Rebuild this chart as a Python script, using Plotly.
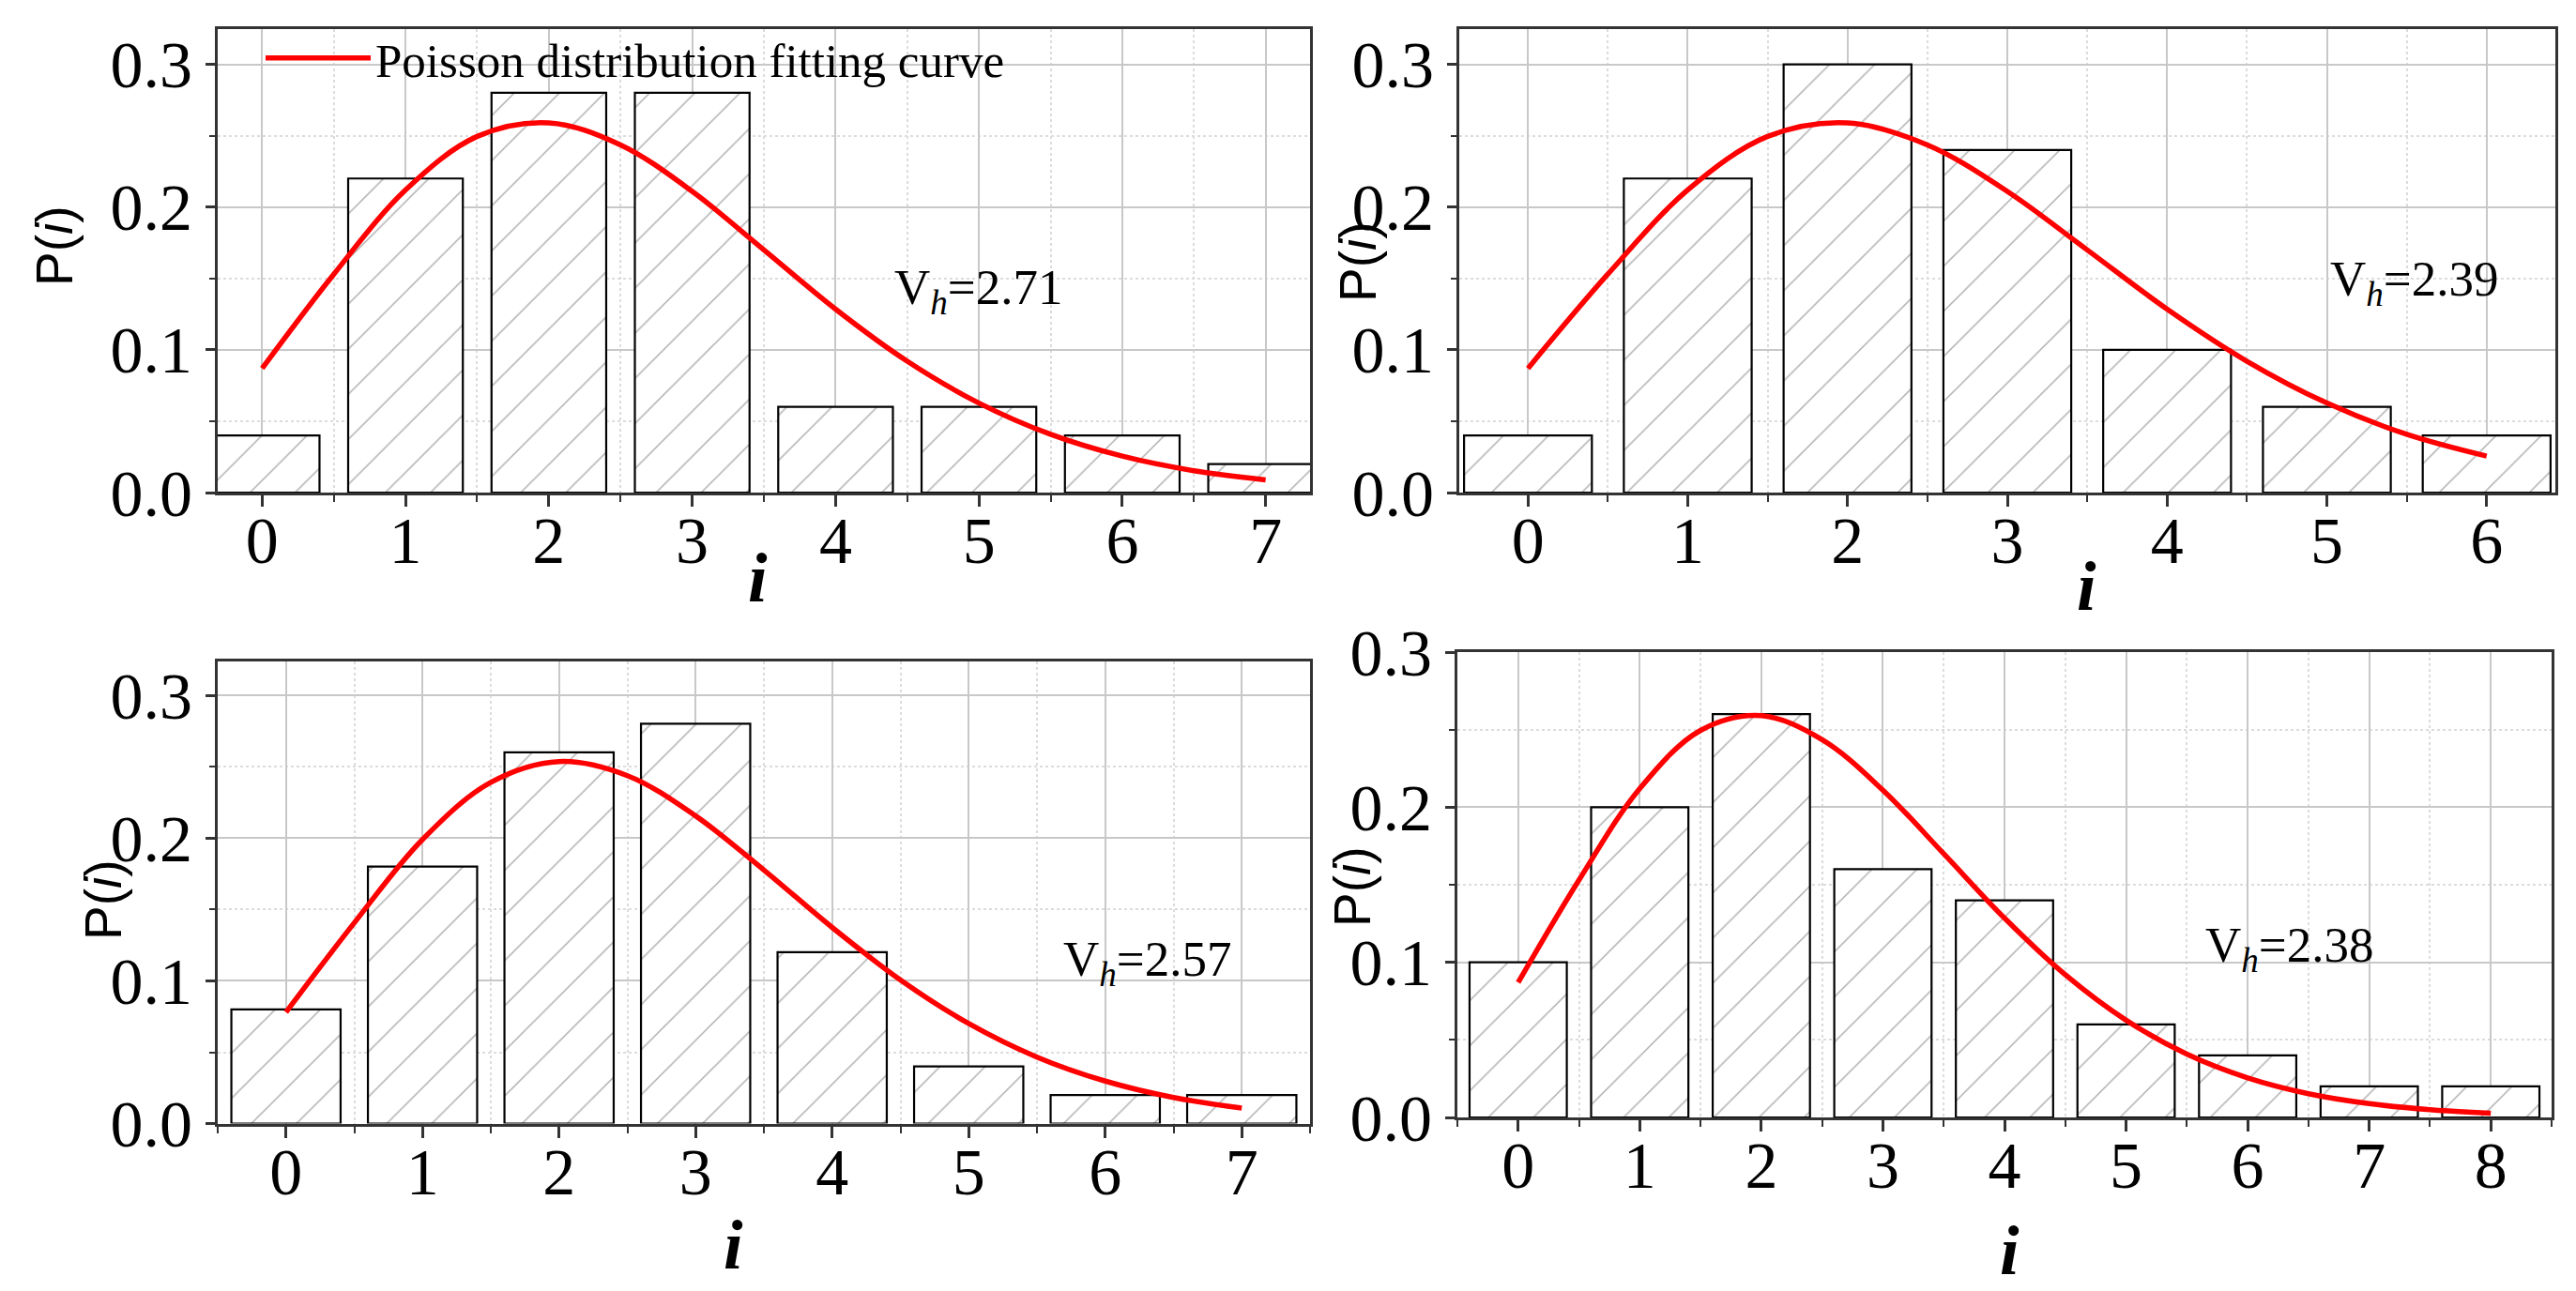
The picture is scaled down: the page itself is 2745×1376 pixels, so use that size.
import plotly.graph_objects as go

# ---------------- data ----------------
i_tl = [0, 1, 2, 3, 4, 5, 6, 7]
p_tl = [0.04, 0.22, 0.28, 0.28, 0.06, 0.06, 0.04, 0.02]
i_tr = [0, 1, 2, 3, 4, 5, 6]
p_tr = [0.04, 0.22, 0.30, 0.24, 0.10, 0.06, 0.04]
i_bl = [0, 1, 2, 3, 4, 5, 6, 7]
p_bl = [0.08, 0.18, 0.26, 0.28, 0.12, 0.04, 0.02, 0.02]
i_br = [0, 1, 2, 3, 4, 5, 6, 7, 8]
p_br = [0.10, 0.20, 0.26, 0.16, 0.14, 0.06, 0.04, 0.02, 0.02]

# fitted curves at half-unit steps
fit_x_tl = [0, 0.5, 1, 1.5, 2, 2.5, 3, 3.5, 4, 4.5, 5, 5.5, 6, 6.5, 7]
fit_y_tl = [0.087, 0.153, 0.212, 0.2495, 0.259, 0.2435, 0.211, 0.170, 0.1285,
            0.092, 0.0627, 0.0408, 0.0255, 0.0153, 0.0089]
fit_x_tr = [0, 0.5, 1, 1.5, 2, 2.5, 3, 3.5, 4, 4.5, 5, 5.5, 6]
fit_y_tr = [0.087, 0.153, 0.212, 0.2495, 0.259, 0.2435, 0.211, 0.170, 0.1285,
            0.092, 0.0627, 0.0408, 0.0255]
fit_x_bl = [0, 0.5, 1, 1.5, 2, 2.5, 3, 3.5, 4, 4.5, 5, 5.5, 6, 6.5, 7]
fit_y_bl = [0.078, 0.1406, 0.199, 0.239, 0.2536, 0.2437, 0.2155, 0.1776, 0.1374,
            0.1006, 0.0701, 0.0466, 0.0298, 0.0183, 0.0109]
fit_x_br = [0, 0.5, 1, 1.5, 2, 2.5, 3, 3.5, 4, 4.5, 5, 5.5, 6, 6.5, 7, 7.5, 8]
fit_y_br = [0.087, 0.153, 0.212, 0.2495, 0.259, 0.2435, 0.211, 0.170, 0.1285,
            0.092, 0.0627, 0.0408, 0.0255, 0.0153, 0.0089, 0.005, 0.0027]

vh_labels = ["2.71", "2.39", "2.57", "2.38"]
legend_name = "Poisson distribution fitting curve"

# ---------------- styles ----------------
SERIF = "Liberation Serif, Times New Roman, serif"
SANS = "Liberation Sans, Arial, sans-serif"
W, H = 2745, 1376

panels = [
    dict(ix=i_tl, p=p_tl, fx=fit_x_tl, fy=fit_y_tl, xr=[-0.31, 7.31], yr=[0, 0.325],
         dom_x=[232, 1396], dom_y=[30.5, 525], vh=(4.40, 0.141)),
    dict(ix=i_tr, p=p_tr, fx=fit_x_tr, fy=fit_y_tr, xr=[-0.43, 6.43], yr=[0, 0.325],
         dom_x=[1555, 2723], dom_y=[30.5, 525], vh=(5.01, 0.147)),
    dict(ix=i_bl, p=p_bl, fx=fit_x_bl, fy=fit_y_bl, xr=[-0.5, 7.5], yr=[0, 0.324],
         dom_x=[232, 1396], dom_y=[704.5, 1197.6], vh=(5.68, 0.113)),
    dict(ix=i_br, p=p_br, fx=fit_x_br, fy=fit_y_br, xr=[-0.5, 8.5], yr=[0, 0.3],
         dom_x=[1553, 2719], dom_y=[695, 1191], vh=(5.64, 0.109)),
]

ytitle_pos = [(58, 262), (1447, 279), (110, 959), (1441, 945)]
xtitle_pos = [(808, 616), (2223, 625), (781, 1327), (2141, 1333)]

fig = go.Figure()
layout = dict(
    width=W, height=H,
    margin=dict(l=0, r=0, t=0, b=0),
    paper_bgcolor="white", plot_bgcolor="white",
    bargap=0.2,
    showlegend=True,
    legend=dict(x=(404 - 126) / W, y=1 - 62 / H, xanchor="left", yanchor="middle",
                itemwidth=112,
                bgcolor="rgba(0,0,0,0)", borderwidth=0,
                font=dict(family=SERIF, size=51, color="black")),
    annotations=[],
)

for k, pn in enumerate(panels):
    sfx = "" if k == 0 else str(k + 1)
    xa, ya = "x" + sfx, "y" + sfx
    fig.add_trace(go.Bar(
        x=pn["ix"], y=pn["p"], width=0.8, xaxis=xa, yaxis=ya, showlegend=False,
        marker=dict(color="white", line=dict(color="black", width=2.2),
                    pattern=dict(shape="/", fgcolor="#606060", bgcolor="white",
                                 size=34, solidity=0.045)),
        hoverinfo="x+y",
    ))
    fig.add_trace(go.Scatter(
        x=pn["fx"], y=pn["fy"], mode="lines", xaxis=xa, yaxis=ya,
        line=dict(color="#ff0000", width=5.5, shape="spline", smoothing=1.0),
        name=legend_name, showlegend=(k == 0),
    ))
    axcommon = dict(
        showline=True, linecolor="#333333", linewidth=3, mirror=True,
        ticks="outside", tickcolor="#333333", tickwidth=2.5,
        tickfont=dict(family=SERIF, size=70, color="black"),
        showgrid=True, gridcolor="#c8c8c8", gridwidth=2,
        zeroline=False, automargin=False,
    )
    layout["xaxis" + sfx] = dict(
        axcommon, domain=[pn["dom_x"][0] / W, pn["dom_x"][1] / W],
        range=pn["xr"], anchor=ya, tickmode="linear", tick0=0, dtick=1, ticklen=12,
        ticklabelstandoff=-24,
        minor=dict(dtick=0.5, tick0=0, ticks="outside", ticklen=7, tickcolor="#333333",
                   tickwidth=2, showgrid=True, gridcolor="#dcdcdc", gridwidth=1.5,
                   griddash="dot"),
    )
    layout["yaxis" + sfx] = dict(
        axcommon, domain=[1 - pn["dom_y"][1] / H, 1 - pn["dom_y"][0] / H],
        range=pn["yr"], anchor=xa, tickmode="linear", tick0=0, dtick=0.1,
        tickformat=".1f", ticklen=10,
        minor=dict(dtick=0.05, tick0=0, ticks="outside", ticklen=6, tickcolor="#333333",
                   tickwidth=2, showgrid=True, gridcolor="#dcdcdc", gridwidth=1.5,
                   griddash="dot"),
    )
    # V_h annotation
    layout["annotations"].append(dict(
        x=pn["vh"][0], y=pn["vh"][1], xref=xa, yref=ya, xanchor="left", yanchor="middle",
        text="V<sub><i>h</i></sub>=" + vh_labels[k], showarrow=False,
        font=dict(family=SERIF, size=53, color="black"),
    ))
    # axis titles
    yx, yy = ytitle_pos[k]
    layout["annotations"].append(dict(
        x=yx / W, y=1 - yy / H, xref="paper", yref="paper", xanchor="center",
        yanchor="middle", textangle=-90, text="P(<i>i</i>)", showarrow=False,
        font=dict(family=SANS, size=55, color="black"),
    ))
    xx, xy = xtitle_pos[k]
    layout["annotations"].append(dict(
        x=xx / W, y=1 - xy / H, xref="paper", yref="paper", xanchor="center",
        yanchor="middle", text="<b><i>i</i></b>", showarrow=False,
        font=dict(family=SERIF, size=74, color="black"),
    ))

fig.update_layout(**layout)
fig.write_html("out.html")
